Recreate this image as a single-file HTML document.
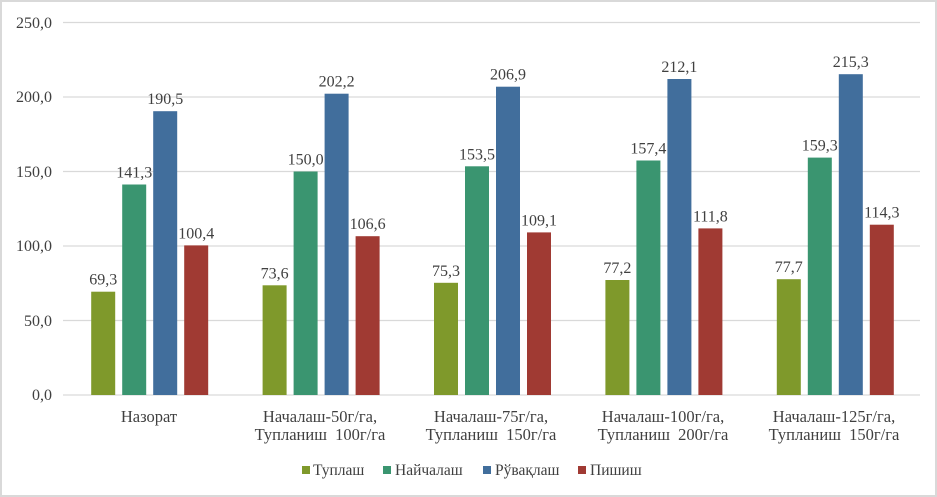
<!DOCTYPE html>
<html><head><meta charset="utf-8"><style>
html,body{margin:0;padding:0;background:#fff}
svg{display:block}
text{font-family:"Liberation Serif",serif;fill:#404040}
</style></head><body>
<svg width="937" height="497" xmlns="http://www.w3.org/2000/svg">
<rect x="1" y="1" width="935" height="495" fill="#fff" stroke="#d9d9d9" stroke-width="2"/>
<g stroke="#d9d9d9" stroke-width="1.3">
<line x1="63" x2="920" y1="22.5" y2="22.5"/>
<line x1="63" x2="920" y1="97" y2="97"/>
<line x1="63" x2="920" y1="171.5" y2="171.5"/>
<line x1="63" x2="920" y1="246" y2="246"/>
<line x1="63" x2="920" y1="320.5" y2="320.5"/>
<line x1="63" x2="920" y1="395" y2="395"/>
</g>
<g font-size="16" text-anchor="end">
<text x="52" y="28">250,0</text>
<text x="52" y="102">200,0</text>
<text x="52" y="177">150,0</text>
<text x="52" y="251">100,0</text>
<text x="52" y="326">50,0</text>
<text x="52" y="400">0,0</text>
</g>
<g>
<rect x="91.2" y="291.7" width="24" height="103.3" fill="#7f992b"/>
<rect x="122.2" y="184.5" width="24" height="210.5" fill="#3a9570"/>
<rect x="153.2" y="111.2" width="24" height="283.8" fill="#416e9c"/>
<rect x="184.2" y="245.4" width="24" height="149.6" fill="#a03a33"/>
<rect x="262.6" y="285.3" width="24" height="109.7" fill="#7f992b"/>
<rect x="293.6" y="171.5" width="24" height="223.5" fill="#3a9570"/>
<rect x="324.6" y="93.7" width="24" height="301.3" fill="#416e9c"/>
<rect x="355.6" y="236.2" width="24" height="158.8" fill="#a03a33"/>
<rect x="434" y="282.8" width="24" height="112.2" fill="#7f992b"/>
<rect x="465" y="166.3" width="24" height="228.7" fill="#3a9570"/>
<rect x="496" y="86.7" width="24" height="308.3" fill="#416e9c"/>
<rect x="527" y="232.4" width="24" height="162.6" fill="#a03a33"/>
<rect x="605.4" y="280.0" width="24" height="115.0" fill="#7f992b"/>
<rect x="636.4" y="160.5" width="24" height="234.5" fill="#3a9570"/>
<rect x="667.4" y="79.0" width="24" height="316.0" fill="#416e9c"/>
<rect x="698.4" y="228.4" width="24" height="166.6" fill="#a03a33"/>
<rect x="776.8" y="279.2" width="24" height="115.8" fill="#7f992b"/>
<rect x="807.8" y="157.6" width="24" height="237.4" fill="#3a9570"/>
<rect x="838.8" y="74.2" width="24" height="320.8" fill="#416e9c"/>
<rect x="869.8" y="224.7" width="24" height="170.3" fill="#a03a33"/>
</g>
<g font-size="16" text-anchor="middle">
<text x="103.2" y="284.7">69,3</text>
<text x="134.2" y="177.5">141,3</text>
<text x="165.2" y="104.2">190,5</text>
<text x="196.2" y="238.4">100,4</text>
<text x="274.6" y="278.3">73,6</text>
<text x="305.6" y="164.5">150,0</text>
<text x="336.6" y="86.7">202,2</text>
<text x="367.6" y="229.2">106,6</text>
<text x="446" y="275.8">75,3</text>
<text x="477" y="159.3">153,5</text>
<text x="508" y="79.7">206,9</text>
<text x="539" y="225.4">109,1</text>
<text x="617.4" y="273.0">77,2</text>
<text x="648.4" y="153.5">157,4</text>
<text x="679.4" y="72.0">212,1</text>
<text x="710.4" y="221.4">111,8</text>
<text x="788.8" y="272.2">77,7</text>
<text x="819.8" y="150.6">159,3</text>
<text x="850.8" y="67.2">215,3</text>
<text x="881.8" y="217.7">114,3</text>
</g>
<g font-size="16.5" text-anchor="middle">
<text x="149" y="422">Назорат</text>
<text x="320" y="422">Началаш-50г/га,</text><text x="320" y="440" xml:space="preserve">Тупланиш  100г/га</text>
<text x="491" y="422">Началаш-75г/га,</text><text x="491" y="440" xml:space="preserve">Тупланиш  150г/га</text>
<text x="663" y="422">Началаш-100г/га,</text><text x="663" y="440" xml:space="preserve">Тупланиш  200г/га</text>
<text x="834" y="422">Началаш-125г/га,</text><text x="834" y="440" xml:space="preserve">Тупланиш  150г/га</text>
</g>
<g font-size="15.5">
<rect x="302" y="466" width="8" height="8" fill="#7f992b"/><text x="313" y="475">Туплаш</text>
<rect x="383" y="466" width="8" height="8" fill="#3a9570"/><text x="395" y="475">Найчалаш</text>
<rect x="483" y="466" width="8" height="8" fill="#416e9c"/><text x="495" y="475">Рўвақлаш</text>
<rect x="578" y="466" width="8" height="8" fill="#a03a33"/><text x="590" y="475">Пишиш</text>
</g>
</svg>
</body></html>
